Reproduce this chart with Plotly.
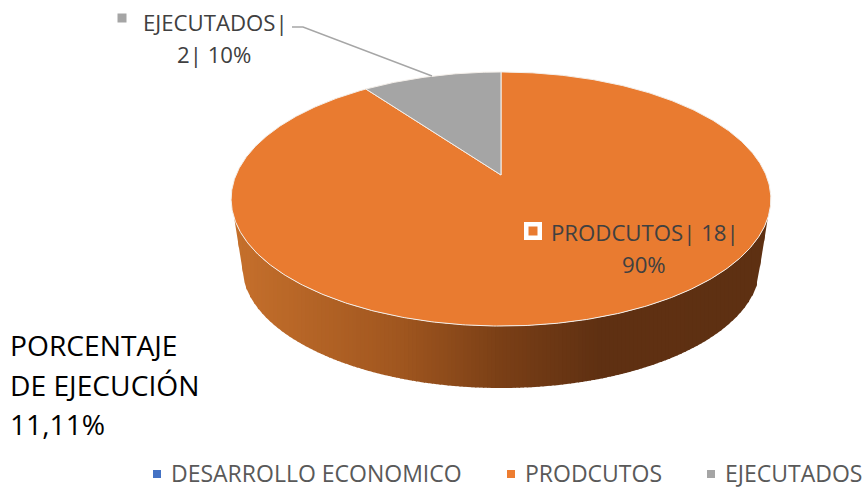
import numpy as np
import plotly.graph_objects as go

categories = ["DESARROLLO ECONOMICO", "PRODCUTOS", "EJECUTADOS"]
values = [0, 18, 2]
colors = ["#4472C4", "#ED7D31", "#A5A5A5"]
face_colors = ["#4472C4", "#E97B30", "#A5A5A5"]
legend_text_x = [171, 525, 725]
note_lines = ["PORCENTAJE", "DE EJECUCIÓN", "11,11%"]

W, H = 864, 487
CX, CY, A, B, K = 501, 175, 265, 122.5, 0.189
DEPTH, SHRINK = 68, 0.96
TXT = "#404040"


def project(frac, s=1.0, dy=0.0):
    """Pie fraction (clockwise from 12 o'clock) to the tilted pie's plane."""
    th = 2 * np.pi * np.asarray(frac, dtype=float)
    X, Y = np.sin(th), np.cos(th)
    w = 1 + K * Y
    return CX + s * A * X / w, CY + dy - s * B * Y / w


def side_color(x):
    stops_x = [233, 400, 501, 600, 771]
    stops = [(198, 112, 44), (160, 86, 31), (122, 63, 22), (95, 48, 18), (94, 48, 18)]
    c = [np.interp(x, stops_x, [s[i] for s in stops]) for i in range(3)]
    return "rgb(%d,%d,%d)" % tuple(int(round(v)) for v in c)


fig = go.Figure()

# side wall: only the near part of the rim is visible; shaded in vertical bands
f0, f1 = 0.3035, 0.6965
fr = np.linspace(f1, f0, 400)  # left to right along the near rim
tx, ty = project(fr)
bx, by = project(fr, SHRINK, DEPTH)
low_x = np.r_[tx[0], bx, tx[-1]]
low_y = np.r_[ty[0], by, ty[-1]]
bands = np.linspace(tx[0], tx[-1], 136)
for a, b in zip(bands[:-1], bands[1:]):
    xs = np.linspace(a, min(b + 1, bands[-1]), 5)
    up = np.interp(xs, tx, ty)
    lo = np.interp(xs, low_x, low_y)
    col = side_color((a + b) / 2)
    fig.add_trace(go.Scatter(
        x=np.r_[xs, xs[::-1], xs[0]], y=np.r_[up, lo[::-1], up[0]],
        mode="lines", fill="toself", fillcolor=col, line=dict(width=0),
        hoverinfo="skip", showlegend=False))

# top face slices
total = sum(values)
cum = 0.0
for name, v, c in zip(categories, values, face_colors):
    start, cum = cum, cum + v / total
    if v == 0:
        continue
    fr = np.linspace(start, cum, max(8, int(720 * v / total)))
    ex, ey = project(fr)
    fig.add_trace(go.Scatter(
        x=np.r_[CX, ex, CX], y=np.r_[CY, ey, CY], mode="lines", fill="toself",
        fillcolor=c, line=dict(color="#F4EFEA", width=1), name=name,
        hoverinfo="name", showlegend=False))

# leader line of the small slice
fig.add_trace(go.Scatter(x=[292, 303, 432], y=[27, 27, 76], mode="lines",
                         line=dict(color="#A6A6A6", width=1.4), hoverinfo="skip", showlegend=False))

# data-label keys
fig.add_trace(go.Scatter(x=[122], y=[18], mode="markers", hoverinfo="skip", showlegend=False,
                         marker=dict(symbol="square", size=9, color=colors[2])))
fig.add_trace(go.Scatter(x=[533], y=[231], mode="markers", hoverinfo="skip", showlegend=False,
                         marker=dict(symbol="square", size=16, color="#FFFFFF",
                                     line=dict(color="#FFFFFF", width=2))))
fig.add_trace(go.Scatter(x=[533], y=[231], mode="markers", hoverinfo="skip", showlegend=False,
                         marker=dict(symbol="square", size=9, color=face_colors[1])))

# legend row
for name, c, tx_ in zip(categories, colors, legend_text_x):
    fig.add_trace(go.Scatter(x=[tx_ - 14], y=[474], mode="markers", name=name, showlegend=False,
                             hoverinfo="name", marker=dict(symbol="square", size=8, color=c)))
    fig.add_annotation(x=tx_, y=473, text=name, showarrow=False, xanchor="left", yanchor="middle",
                       font=dict(family="Open Sans", size=23, color="#595959"), xshift=-2)


def label(x, y, text, size=22.2, color=TXT, anchor="center"):
    fig.add_annotation(x=x, y=y, text=text, showarrow=False, xanchor=anchor, yanchor="middle",
                       font=dict(family="Open Sans", size=size, color=color))


pct = [round(100 * v / total) for v in values]
label(215, 22, f"{categories[2]}|")
label(214, 54, f"{values[2]}| {pct[2]}%")
label(645, 232, f"{categories[1]}| {values[1]}|")
label(644, 264, f"{pct[1]}%")
for yy, line in zip([345, 385, 424], note_lines):
    label(8, yy, line, size=28.2, color="#000000", anchor="left")

fig.update_layout(
    width=W, height=H, margin=dict(l=0, r=0, t=0, b=0), autosize=False,
    paper_bgcolor="white", plot_bgcolor="white", showlegend=False,
    xaxis=dict(range=[0, W], visible=False, fixedrange=True),
    yaxis=dict(range=[H, 0], visible=False, fixedrange=True),
)
fig.write_html("out.html", config={"displayModeBar": False},
               default_width=f"{W}px", default_height=f"{H}px",
               post_script="document.body.style.margin='0';document.body.style.overflow='hidden';")
